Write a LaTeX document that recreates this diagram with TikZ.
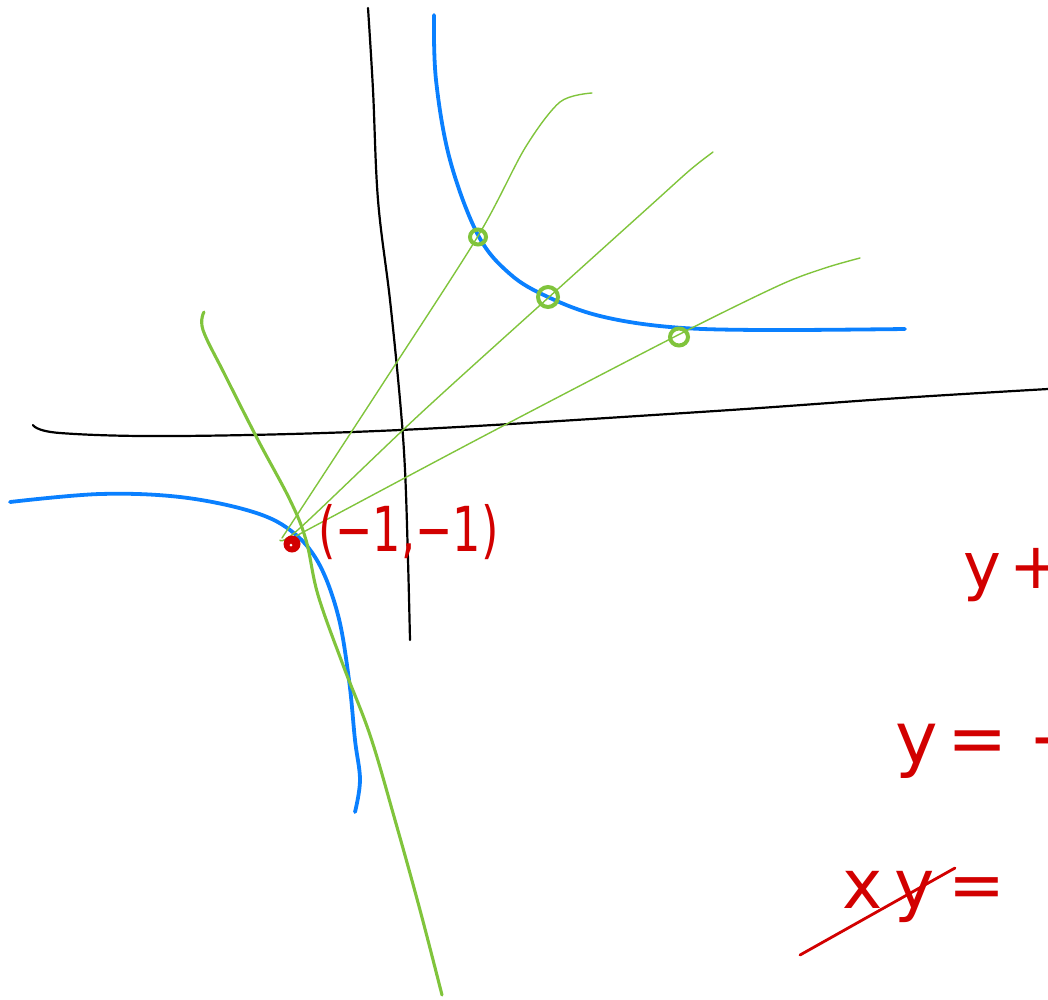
\documentclass[tikz,border=0pt]{standalone}
\usepackage{fontspec}
\setsansfont{DejaVu Sans}
\definecolor{penblue}{RGB}{10,128,255}
\definecolor{pengreen}{RGB}{128,196,60}
\definecolor{penred}{RGB}{210,0,0}
\tikzset{
  axisline/.style={black,line width=2.2pt,line cap=round},
  hyper/.style={penblue,line width=3.8pt,line cap=round},
  secant/.style={pengreen,line width=1.4pt,line cap=round},
  greenstroke/.style={pengreen,line width=3.1pt,line cap=round},
  ring/.style={pengreen,line width=4pt},
  handtext/.style={penred,font=\sffamily,inner sep=0pt,anchor=base west},
}
\begin{document}
\begin{tikzpicture}[x=1pt,y=-1pt]
\useasboundingbox (0,0) rectangle (1048,999);
\clip (0,0) rectangle (1048,999);
% axes
\draw[axisline] plot[smooth,tension=0.6] coordinates {(368,8) (373,90) (378,200) (390,300) (400,400) (405,470) (408,560) (410,640)};
\draw[axisline] plot[smooth,tension=0.6] coordinates {(33,425) (60,433) (180,436) (400,430) (700,412) (900,398) (1048,389)};
% hyperbola branches
\draw[hyper] plot[smooth,tension=0.6] coordinates {(434,15) (436,80) (450,160) (478,235) (510,274) (548,297) (600,316) (670,327) (760,330) (905,329)};
\draw[hyper] plot[smooth,tension=0.6] coordinates {(10,502) (100,494) (180,497) (250,511) (290,530) (318,562) (338,615) (349,680) (355,740) (360,780) (355,812)};
% secant lines
\draw[secant] plot[smooth,tension=0.5] coordinates {(282,538) (380,388) (478,236) (525,148) (560,102) (592,93)};
\draw[secant] plot[smooth,tension=0.5] coordinates {(280,540) (300,528) (420,414) (548,298) (650,206) (690,170) (713,152)};
\draw[secant] plot[smooth,tension=0.5] coordinates {(296,536) (480,438) (678,335) (780,285) (825,268) (860,258)};
% long green stroke
\draw[greenstroke] plot[smooth,tension=0.6] coordinates {(204,312) (203,330) (225,375) (258,440) (290,500) (306,540) (318,595) (343,665) (370,735) (395,820) (420,910) (442,995)};
% green rings
\draw[ring] (478,237) ellipse (8 and 7.5);
\draw[ring] (548,297) ellipse (10 and 10);
\draw[ring] (679,337) ellipse (9 and 8.5);
% red point
\fill[penred] (292,544) circle (8.5);
\fill[white] (291,545) circle (1.5);
% labels
\node[handtext,font=\sffamily\fontsize{62}{68}\selectfont,xscale=0.72] (pt) at (318,551) {(−1,−1)};
\node[handtext,font=\sffamily\fontsize{64}{70}\selectfont] (l1) at (963,588) {y\hspace{8pt}+};
\node[handtext,font=\sffamily\fontsize{72}{78}\selectfont] (l2) at (895,763) {y\hspace{10pt}=\hspace{20pt}−};
\node[handtext,font=\sffamily\fontsize{68}{74}\selectfont] (l3) at (842,908) {x\hspace{12pt}y\hspace{14pt}=};
\draw[penred,line width=2.8pt,line cap=round] (800,955) -- (955,868);
\end{tikzpicture}
\end{document}
